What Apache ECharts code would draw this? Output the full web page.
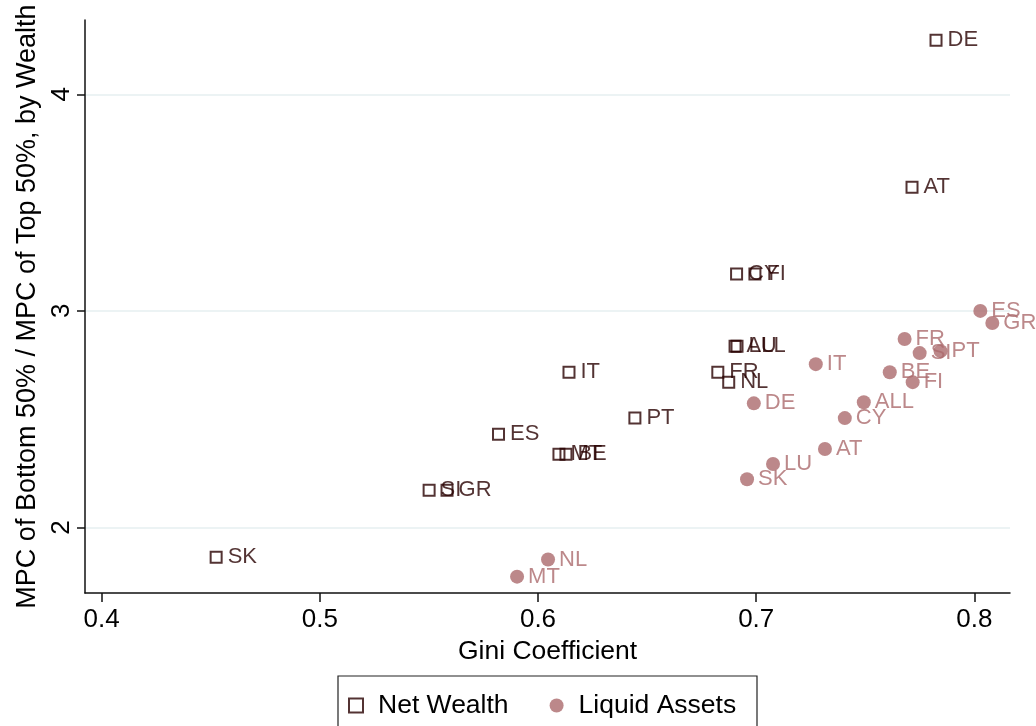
<!DOCTYPE html>
<html>
<head>
<meta charset="utf-8">
<script src="https://cdn.jsdelivr.net/npm/echarts@6/dist/echarts.min.js"></script>
<style>
  html, body { margin: 0; padding: 0; background: #fff; }
  #chart { width: 1036px; height: 726px; }
</style>
</head>
<body>
<div id="chart"></div>
<script>
// Net wealth: Gini coefficient vs. MPC ratio (bottom 50% / top 50%)
const netCountries = ['DE', 'AT', 'CY', 'FI', 'ALL', 'LU', 'FR', 'NL', 'IT', 'PT', 'ES', 'MT', 'BE', 'SI', 'GR', 'SK'];
const netGini      = [0.7824, 0.7714, 0.6910, 0.6994, 0.6903, 0.6912, 0.6824, 0.6874, 0.6142, 0.6444, 0.5819, 0.6096, 0.6128, 0.5501, 0.5583, 0.4525];
const netRatio     = [4.250, 3.571, 3.170, 3.170, 2.837, 2.837, 2.717, 2.671, 2.717, 2.505, 2.431, 2.338, 2.338, 2.172, 2.172, 1.862];

// Liquid assets
const liqCountries = ['ES', 'GR', 'FR', 'SI', 'PT', 'BE', 'FI', 'IT', 'ALL', 'DE', 'CY', 'AT', 'LU', 'SK', 'NL', 'MT'];
const liqGini      = [0.8027, 0.8082, 0.7680, 0.7749, 0.7845, 0.7612, 0.7717, 0.7273, 0.7493, 0.6989, 0.7406, 0.7315, 0.7077, 0.6958, 0.6046, 0.5904];
const liqRatio     = [3.000, 2.944, 2.870, 2.805, 2.814, 2.717, 2.671, 2.754, 2.578, 2.573, 2.505, 2.362, 2.293, 2.223, 1.852, 1.773];

// Tick marks
const xTicks = [0.4, 0.5, 0.6, 0.7, 0.8];
const yTicks = [2, 3, 4];

const netColor = '#280000';
const liqColor = '#ab6a6d';
const font = '"Liberation Sans", Arial, sans-serif';

function points(names, xs, ys) {
  return names.map((n, i) => ({ name: n, value: [xs[i], ys[i]] }));
}

const chart = echarts.init(document.getElementById('chart'), null, { renderer: 'canvas' });

chart.setOption({
  animation: false,
  backgroundColor: '#fff',
  grid: { left: 85, right: 26, top: 20, bottom: 133, containLabel: false },
  xAxis: {
    type: 'value',
    min: 0.3924,
    max: 0.8163,
    name: 'Gini Coefficient',
    nameLocation: 'middle',
    nameGap: 42,
    nameTextStyle: { fontFamily: font, fontSize: 26.5, color: '#000' },
    axisLine: { show: true, onZero: false, lineStyle: { color: '#111', width: 1.5 } },
    axisTick: { show: true, length: 9, customValues: xTicks, lineStyle: { color: '#111', width: 1.5 } },
    axisLabel: {
      customValues: xTicks,
      margin: 14,
      fontFamily: font, fontSize: 26, color: '#000',
      formatter: v => v.toFixed(1)
    },
    splitLine: { show: false }
  },
  yAxis: {
    type: 'value',
    min: 1.6975,
    max: 4.343,
    name: 'MPC of Bottom 50% / MPC of Top 50%, by Wealth',
    nameLocation: 'middle',
    nameRotate: 90,
    nameGap: 44,
    nameTextStyle: { fontFamily: font, fontSize: 27, color: '#000' },
    axisLine: { show: true, onZero: false, lineStyle: { color: '#111', width: 1.5 } },
    axisTick: { show: true, length: 8, customValues: yTicks, lineStyle: { color: '#111', width: 1.5 } },
    axisLabel: {
      customValues: yTicks,
      rotate: 90,
      margin: 10,
      fontFamily: font, fontSize: 26, color: '#000',
      formatter: v => String(v)
    },
    splitLine: { show: true, lineStyle: { color: '#e6eff1', width: 1.5 } }
  },
  legend: {
    left: 348,
    top: 692,
    itemWidth: 14,
    itemHeight: 14,
    itemGap: 41,
    padding: 0,
    textStyle: { fontFamily: font, fontSize: 26.5, color: '#000', padding: [0, 0, 0, 10] },
    data: ['Net Wealth', 'Liquid Assets']
  },
  graphic: [{
    type: 'rect',
    shape: { x: 338, y: 676, width: 419, height: 70 },
    style: { fill: 'none', stroke: '#222', lineWidth: 1.2 },
    silent: true
  }],
  series: [
    {
      name: 'Net Wealth',
      type: 'scatter',
      symbol: 'rect',
      symbolSize: 11,
      itemStyle: { color: 'rgba(255,255,255,0)', borderColor: netColor, borderWidth: 2 },
      label: {
        show: true, position: 'right', distance: 5,
        formatter: p => p.name,
        fontFamily: font, fontSize: 22, color: netColor
      },
      data: points(netCountries, netGini, netRatio)
    },
    {
      name: 'Liquid Assets',
      type: 'scatter',
      symbol: 'circle',
      symbolSize: 14,
      itemStyle: { color: liqColor },
      label: {
        show: true, position: 'right', distance: 4,
        formatter: p => p.name,
        fontFamily: font, fontSize: 22, color: liqColor
      },
      data: points(liqCountries, liqGini, liqRatio)
    }
  ]
});
</script>
</body>
</html>
